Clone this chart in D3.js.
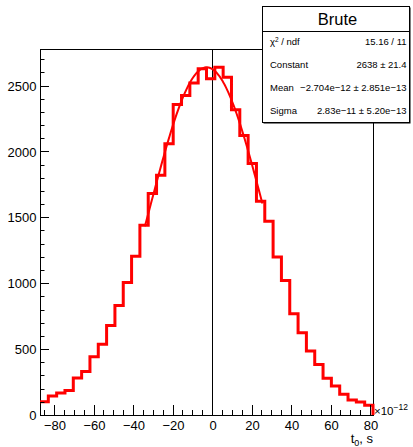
<!DOCTYPE html>
<html>
<head>
<meta charset="utf-8">
<script src="https://cdn.jsdelivr.net/npm/d3@7"></script>
<style>
  html, body { margin: 0; padding: 0; background: #fff; }
  svg { display: block; font-family: "Liberation Sans", Arial, Helvetica, sans-serif; }
</style>
</head>
<body>
<svg id="chart" width="413" height="447"></svg>
<script>
// ---- data (x in units of 1e-12 s) ----
const xRange = [-87.1, 81.5];
const binCounts = [101,144,167,185,280,331,442,536,680,831,1006,1205,1440,1680,1819,2059,2355,2425,2519,2628,
                   2552,2638,2562,2317,2120,1908,1622,1470,1198,1021,769,625,485,384,278,220,157,114,99,74];
const xTicks = [-80,-60,-40,-20,0,20,40,60,80];
const yTicks = [0,500,1000,1500,2000,2500];
const yMax = 2777;
const fitConstant = 2638, fitMean = -2.704, fitSigma = 28.3;
const fitRange = [-34, 25.5];
const statsTitle = "Brute";
const statsLabels = ["χ2 / ndf", "Constant", "Mean", "Sigma"];
const statsValues = ["15.16 / 11", "2638 ± 21.4", "−2.704e−12 ± 2.851e−13", "2.83e−11 ± 5.20e−13"];

// ---- layout ----
const L = 40, R = 373, T = 49, B = 415;
const svg = d3.select("#chart");
const x = d3.scaleLinear().domain(xRange).range([L, R]);
const y = d3.scaleLinear().domain([0, yMax]).range([B, T]);
const nb = binCounts.length;
const bw = (xRange[1] - xRange[0]) / nb;

// frame
svg.append("rect").attr("x", L + 0.5).attr("y", T + 0.5).attr("width", R - L).attr("height", B - T)
  .attr("fill", "none").attr("stroke", "#000").attr("stroke-width", 1);

// zero line
svg.append("line").attr("x1", Math.round(x(0)) + 0.5).attr("x2", Math.round(x(0)) + 0.5)
  .attr("y1", T).attr("y2", B).attr("stroke", "#000").attr("stroke-width", 1);

// histogram step outline
const pts = [];
binCounts.forEach((v, i) => {
  const x0 = xRange[0] + i * bw, x1 = x0 + bw;
  pts.push([x(x0), y(v)]);
  pts.push([x(x1), y(v)]);
});
pts.push([x(xRange[1]), y(0)]);
svg.append("path").attr("d", d3.line()(pts)).attr("fill", "none")
  .attr("stroke", "#ff0000").attr("stroke-width", 3).attr("stroke-linejoin", "miter");

// fit curve
const fitPts = d3.range(0, 101).map(k => {
  const xv = fitRange[0] + (fitRange[1] - fitRange[0]) * k / 100;
  return [x(xv), y(fitConstant * Math.exp(-0.5 * Math.pow((xv - fitMean) / fitSigma, 2)))];
});
svg.append("path").attr("d", d3.line()(fitPts)).attr("fill", "none")
  .attr("stroke", "#ff0000").attr("stroke-width", 2);

// x axis
const xAxis = d3.axisBottom(x).tickValues(xTicks).tickSize(0).tickFormat(d => d < 0 ? "−" + Math.abs(d) : String(d));
const gx = svg.append("g").attr("transform", `translate(0.5,${B + 0.5})`).call(xAxis);
gx.select(".domain").remove();
gx.selectAll("text").attr("font-size", 13).attr("fill", "#000").attr("dy", "0.7em").attr("y", 5)
  .attr("font-family", "Liberation Sans, Arial, sans-serif");
const xMinor = d3.range(-85, 85, 5).filter(v => v >= xRange[0] && v <= xRange[1]);
svg.append("g").selectAll("line").data(xMinor).join("line")
  .attr("x1", d => Math.round(x(d)) + 0.5).attr("x2", d => Math.round(x(d)) + 0.5)
  .attr("y1", B).attr("y2", d => B - (d % 20 === 0 ? 10 : 5))
  .attr("stroke", "#000").attr("stroke-width", 1);

// y axis
const yAxis = d3.axisLeft(y).tickValues(yTicks).tickSize(0).tickFormat(d3.format("d"));
const gy = svg.append("g").attr("transform", `translate(${L + 0.5},0.5)`).call(yAxis);
gy.select(".domain").remove();
gy.selectAll("text").attr("font-size", 13).attr("fill", "#000").attr("x", -4)
  .attr("font-family", "Liberation Sans, Arial, sans-serif");
const yMinor = d3.range(0, yMax, 100);
svg.append("g").selectAll("line").data(yMinor).join("line")
  .attr("x1", L).attr("x2", d => L + (d % 500 === 0 ? 9 : 4.5))
  .attr("y1", d => Math.round(y(d)) + 0.5).attr("y2", d => Math.round(y(d)) + 0.5)
  .attr("stroke", "#000").attr("stroke-width", 1);

// exponent label
const ex = svg.append("text").attr("x", 374).attr("y", 415).attr("font-size", 11.5).attr("fill", "#000");
ex.append("tspan").text("×10");
ex.append("tspan").attr("font-size", 8.5).attr("dy", -5).text("−12");

// axis title
const xt = svg.append("text").attr("x", 373).attr("y", 443).attr("text-anchor", "end")
  .attr("font-size", 13).attr("fill", "#000");
xt.append("tspan").text("t");
xt.append("tspan").attr("font-size", 9).attr("dy", 3).text("0");
xt.append("tspan").attr("dy", -3).text(", s");

// stats box
const bx = 262.5, by = 6.5, bwid = 147, bht = 116;
svg.append("rect").attr("x", bx + 1).attr("y", by + 1).attr("width", bwid).attr("height", bht).attr("fill", "#000");
svg.append("rect").attr("x", bx).attr("y", by).attr("width", bwid).attr("height", bht)
  .attr("fill", "#fff").attr("stroke", "#000").attr("stroke-width", 1);
svg.append("line").attr("x1", bx).attr("x2", bx + bwid).attr("y1", 31.5).attr("y2", 31.5)
  .attr("stroke", "#000").attr("stroke-width", 1);
svg.append("text").attr("x", bx + bwid / 2 + 1.5).attr("y", 24.5).attr("text-anchor", "middle")
  .attr("font-size", 16.5).attr("fill", "#000").text(statsTitle);
const rowY = [45, 67.5, 90.5, 113.5];
statsLabels.forEach((lab, i) => {
  const t = svg.append("text").attr("x", 270).attr("y", rowY[i]).attr("font-size", 9.5).attr("fill", "#000");
  if (lab.startsWith("χ2")) {
    t.append("tspan").text("χ");
    t.append("tspan").attr("font-size", 6.5).attr("dy", -3.5).text("2");
    t.append("tspan").attr("dy", 3.5).text(" / ndf");
  } else {
    t.text(lab);
  }
  svg.append("text").attr("x", 406.5).attr("y", rowY[i]).attr("text-anchor", "end")
    .attr("font-size", 9.5).attr("fill", "#000").text(statsValues[i]);
});
</script>
</body>
</html>
